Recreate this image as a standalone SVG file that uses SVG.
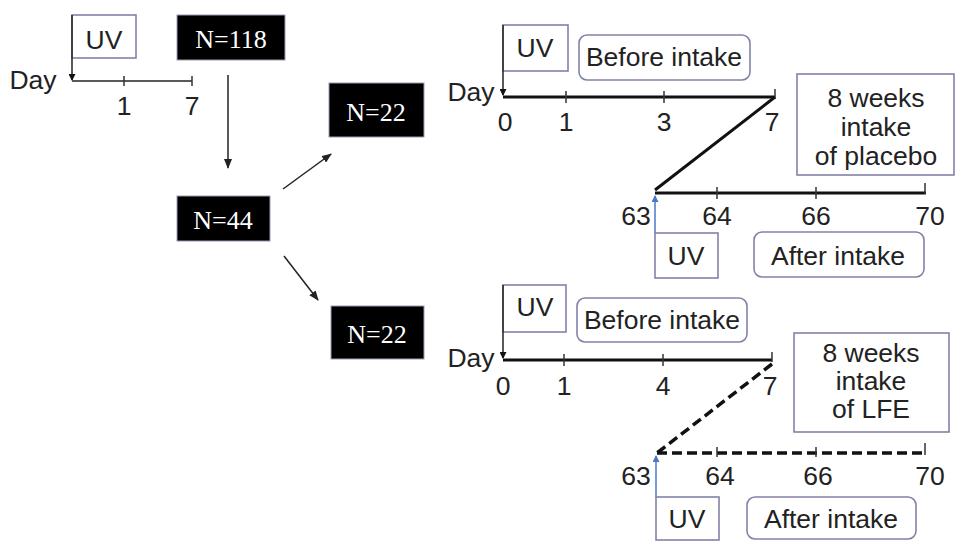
<svg xmlns="http://www.w3.org/2000/svg" width="969" height="556" viewBox="0 0 969 556">
<style>
.t{font-family:"Liberation Sans",Arial,sans-serif;font-size:26.5px;fill:#222;text-anchor:middle}
.n{font-family:"Liberation Serif","Times New Roman",serif;font-size:26px;fill:#fff;text-anchor:middle}
.box{fill:#fff;stroke:#8282a8;stroke-width:1.6}
.blk{fill:#000;stroke:#9a9ab8;stroke-width:1}
.ax{stroke:#111;stroke-width:3;fill:none}
.axt{stroke:#222;stroke-width:1.5;fill:none}
.tk{stroke:#333;stroke-width:1.5}
.dash{stroke:#111;stroke-width:3.5;stroke-dasharray:10,5;fill:none}
.ar{stroke:#222;stroke-width:1.5;fill:none}
</style>
<defs>
<marker id="ah" markerWidth="10" markerHeight="8" refX="9" refY="4" orient="auto" markerUnits="userSpaceOnUse"><path d="M0,0 L10,4 L0,8 z" fill="#222"/></marker>
<marker id="ahs" markerWidth="7" markerHeight="7" refX="6" refY="3.5" orient="auto" markerUnits="userSpaceOnUse"><path d="M0,0 L7,3.5 L0,7 z" fill="#111"/></marker>
<marker id="ahb" markerWidth="7" markerHeight="7" refX="6" refY="3.5" orient="auto" markerUnits="userSpaceOnUse"><path d="M0,0 L7,3.5 L0,7 z" fill="#4a78c8"/></marker>
</defs>

<g id="connectors">
<line class="ar" x1="228" y1="75" x2="228" y2="168" marker-end="url(#ah)"/>
<line class="ar" x1="283" y1="189" x2="331" y2="154" marker-end="url(#ah)"/>
<line class="ar" x1="284" y1="256" x2="318" y2="300" marker-end="url(#ah)"/>
</g>

<g id="timeline-screening">
<rect class="box" x="72" y="15" width="64" height="43"/>
<text class="t" x="104" y="49">UV</text>
<line class="axt" x1="72" y1="15" x2="72" y2="80" marker-end="url(#ahs)"/>
<line class="axt" x1="72" y1="81" x2="192" y2="81"/>
<line class="tk" x1="124" y1="76" x2="124" y2="86"/>
<line class="tk" x1="192" y1="76" x2="192" y2="86"/>
<text class="t" x="33" y="89">Day</text>
<text class="t" x="124" y="115">1</text>
<text class="t" x="192" y="115">7</text>
</g>

<g id="n118"><rect class="blk" x="177" y="15" width="108" height="45"/><text class="n" x="231" y="48">N=118</text></g>
<g id="n44"><rect class="blk" x="177" y="196" width="93" height="45"/><text class="n" x="223" y="229">N=44</text></g>
<g id="n22-placebo"><rect class="blk" x="329" y="83" width="95" height="54"/><text class="n" x="376" y="121">N=22</text></g>
<g id="n22-lfe"><rect class="blk" x="331" y="306" width="93" height="53"/><text class="n" x="377" y="343">N=22</text></g>

<g id="timeline-placebo">
<rect class="box" x="503" y="25" width="65" height="46"/>
<text class="t" x="535" y="57">UV</text>
<line class="axt" x1="503" y1="25" x2="503" y2="95" marker-end="url(#ahs)"/>
<rect class="box" x="579" y="35" width="171" height="45" rx="8"/>
<text class="t" x="664" y="66">Before intake</text>
<text class="t" x="471" y="101">Day</text>
<line class="ax" x1="503" y1="97" x2="775" y2="97"/>
<line class="tk" x1="566" y1="91" x2="566" y2="103"/>
<line class="tk" x1="664" y1="91" x2="664" y2="103"/>
<line class="tk" x1="775" y1="89" x2="775" y2="99"/>
<text class="t" x="505" y="131">0</text>
<text class="t" x="566" y="131">1</text>
<text class="t" x="664" y="131">3</text>
<text class="t" x="772" y="131">7</text>
<rect class="box" x="797" y="74" width="157" height="101"/>
<text class="t" x="876" y="107">8 weeks</text>
<text class="t" x="876" y="136">intake</text>
<text class="t" x="876" y="165">of placebo</text>
<line class="ax" x1="775" y1="97" x2="655" y2="190"/>
<line class="ax" x1="655" y1="193" x2="926" y2="193"/>
<line class="tk" x1="717" y1="187" x2="717" y2="199"/>
<line class="tk" x1="816" y1="187" x2="816" y2="199"/>
<line class="tk" x1="925" y1="183" x2="925" y2="194"/>
<text class="t" x="636" y="225">63</text>
<text class="t" x="717" y="225">64</text>
<text class="t" x="816" y="225">66</text>
<text class="t" x="930" y="225">70</text>
<line x1="655" y1="233" x2="655" y2="196" stroke="#4a78c8" stroke-width="1.5" marker-end="url(#ahb)"/>
<rect class="box" x="655" y="233" width="63" height="45"/>
<text class="t" x="686" y="265">UV</text>
<rect class="box" x="754" y="232" width="170" height="45" rx="8"/>
<text class="t" x="838" y="265">After intake</text>
</g>

<g id="timeline-lfe">
<rect class="box" x="503" y="285" width="63" height="47"/>
<text class="t" x="535" y="316">UV</text>
<line class="axt" x1="503" y1="285" x2="503" y2="358" marker-end="url(#ahs)"/>
<rect class="box" x="577" y="298" width="170" height="44" rx="8"/>
<text class="t" x="662" y="329">Before intake</text>
<text class="t" x="471" y="367">Day</text>
<line class="ax" x1="503" y1="360" x2="772" y2="360"/>
<line class="tk" x1="564" y1="354" x2="564" y2="366"/>
<line class="tk" x1="663" y1="354" x2="663" y2="366"/>
<line class="tk" x1="772" y1="352" x2="772" y2="362"/>
<text class="t" x="503" y="395">0</text>
<text class="t" x="564" y="395">1</text>
<text class="t" x="663" y="395">4</text>
<text class="t" x="770" y="395">7</text>
<rect class="box" x="794" y="333" width="155" height="99"/>
<text class="t" x="871" y="362">8 weeks</text>
<text class="t" x="871" y="390">intake</text>
<text class="t" x="871" y="418">of LFE</text>
<line class="dash" x1="772" y1="364" x2="657" y2="453"/>
<line class="dash" x1="657" y1="453" x2="926" y2="453"/>
<line class="tk" x1="717" y1="447" x2="717" y2="457"/>
<line class="tk" x1="816" y1="447" x2="816" y2="457"/>
<line class="tk" x1="925" y1="443" x2="925" y2="455"/>
<text class="t" x="636" y="485">63</text>
<text class="t" x="720" y="485">64</text>
<text class="t" x="818" y="485">66</text>
<text class="t" x="930" y="485">70</text>
<line x1="656" y1="497" x2="656" y2="456" stroke="#4a78c8" stroke-width="1.5" marker-end="url(#ahb)"/>
<rect class="box" x="656" y="497" width="63" height="43"/>
<text class="t" x="687" y="528">UV</text>
<rect class="box" x="747" y="497" width="169" height="42" rx="8"/>
<text class="t" x="831" y="528">After intake</text>
</g>
</svg>
